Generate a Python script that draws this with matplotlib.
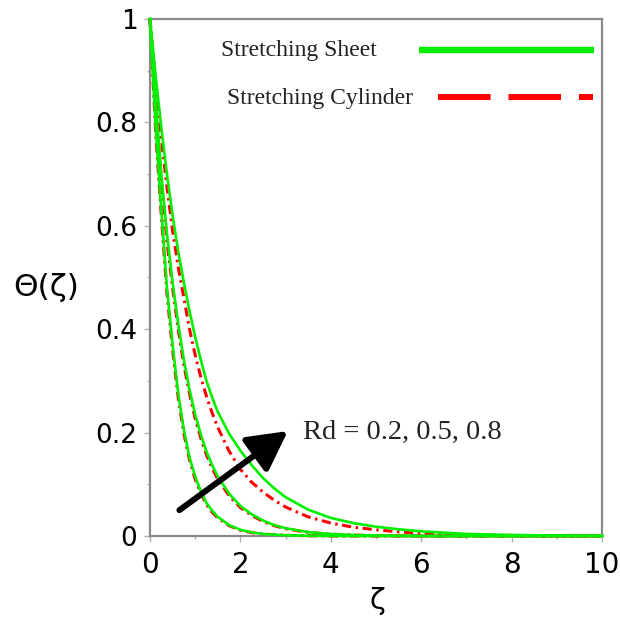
import matplotlib
matplotlib.use('Agg')
import matplotlib.pyplot as plt
from matplotlib.ticker import MultipleLocator, FixedLocator

# zeta grid the values were read at
zeta = [0, 0.125, 0.25, 0.375, 0.5, 0.625, 0.75, 0.875, 1, 1.125, 1.25, 1.375, 1.5, 1.75,
        2, 2.25, 2.5, 2.75, 3, 3.5, 4, 4.5, 5, 5.5, 6, 7, 8, 9, 10]

# Stretching sheet, Rd = 0.2, 0.5, 0.8
sheet_rd02 = [1, 0.79, 0.63, 0.48, 0.37, 0.275, 0.205, 0.152, 0.115, 0.086, 0.064, 0.049, 0.037, 0.021,
              0.012, 0.007, 0.004, 0.0025, 0.0015, 0.0005, 0, 0, 0, 0, 0, 0, 0, 0, 0]
sheet_rd05 = [1, 0.84, 0.70, 0.585, 0.49, 0.41, 0.34, 0.283, 0.235, 0.196, 0.163, 0.137, 0.115, 0.082,
              0.058, 0.042, 0.030, 0.021, 0.015, 0.0075, 0.0038, 0.002, 0.001, 0.0005, 0, 0, 0, 0, 0]
sheet_rd08 = [1, 0.89, 0.79, 0.70, 0.62, 0.55, 0.49, 0.435, 0.385, 0.34, 0.30, 0.268, 0.24, 0.198,
              0.165, 0.137, 0.112, 0.092, 0.075, 0.051, 0.035, 0.025, 0.018, 0.013, 0.009, 0.004,
              0.002, 0.001, 0.0005]

# Stretching cylinder, Rd = 0.2, 0.5, 0.8
cyl_rd02 = [1, 0.78, 0.62, 0.47, 0.36, 0.267, 0.198, 0.147, 0.11, 0.082, 0.061, 0.046, 0.035, 0.02,
            0.011, 0.0065, 0.004, 0.0023, 0.0014, 0.0005, 0, 0, 0, 0, 0, 0, 0, 0, 0]
cyl_rd05 = [1, 0.83, 0.69, 0.57, 0.48, 0.40, 0.33, 0.275, 0.227, 0.189, 0.157, 0.131, 0.11, 0.078,
            0.055, 0.040, 0.028, 0.020, 0.014, 0.007, 0.0035, 0.0018, 0.0009, 0.0004, 0, 0, 0, 0, 0]
cyl_rd08 = [1, 0.875, 0.77, 0.675, 0.59, 0.52, 0.46, 0.40, 0.35, 0.307, 0.27, 0.238, 0.21, 0.164,
            0.129, 0.104, 0.085, 0.069, 0.056, 0.037, 0.025, 0.017, 0.012, 0.008, 0.005, 0.002,
            0.001, 0, 0]

sheet_curves = [sheet_rd02, sheet_rd05, sheet_rd08]
cyl_curves = [cyl_rd02, cyl_rd05, cyl_rd08]

y_tick_vals = [0, 0.2, 0.4, 0.6, 0.8, 1]
y_tick_labels = ['0', '0.2', '0.4', '0.6', '0.8', '1']
x_tick_vals = [0, 2, 4, 6, 8, 10]

arrow_tail = (0.65, 0.05)
arrow_head = (3.05, 0.203)

GREEN = '#00f000'
RED = '#ff0000'
GRAY = '#8a8a8a'

fig = plt.figure(figsize=(6.2, 6.21), dpi=100)
ax = fig.add_axes([150/620, 85/621, 452/620, 517/621])

for c in cyl_curves:
    ax.plot(zeta, c, color=RED, lw=2.2, dashes=(3, 1.5, 0.8, 1.5), zorder=2, clip_on=False)
for s in sheet_curves:
    ax.plot(zeta, s, color=GREEN, lw=1.9, zorder=3, clip_on=False)

ax.set_xlim(0, 10)
ax.set_ylim(0, 1)

for sp in ax.spines.values():
    sp.set_color(GRAY)
    sp.set_linewidth(1.6)

ax.xaxis.set_major_locator(FixedLocator(x_tick_vals))
ax.xaxis.set_minor_locator(MultipleLocator(1))
ax.yaxis.set_major_locator(FixedLocator(y_tick_vals))
ax.yaxis.set_minor_locator(MultipleLocator(0.1))
ax.set_yticklabels(y_tick_labels)
ax.tick_params(which='major', length=4, width=1, color='#b0b0b0', labelsize=19, pad=5)
ax.tick_params(which='minor', length=2.5, width=1, color='#b0b0b0')
ax.tick_params(axis='x', labelsize=20, pad=7)

fig.text(46/620, 1 - 287/621, 'Θ(ζ)', fontsize=22.5, ha='center', va='center')
fig.text(377/620, 1 - 601/621, 'ζ', fontsize=21, ha='center', va='center')

# legend, drawn by hand
ax.plot([0.596, 0.982], [0.940, 0.940], transform=ax.transAxes, color=GREEN, lw=4.6,
        solid_capstyle='butt')
ax.plot([0.638, 0.980], [0.850, 0.850], transform=ax.transAxes, color=RED, lw=4.3,
        dashes=(8.8, 3), solid_capstyle='butt', dash_capstyle='butt')
ax.text(0.157, 0.928, 'Stretching Sheet', transform=ax.transAxes, fontsize=17,
        family='Liberation Serif', ha='left', va='baseline', color='#222222')
ax.text(0.170, 0.835, 'Stretching Cylinder', transform=ax.transAxes, fontsize=17,
        family='Liberation Serif', ha='left', va='baseline', color='#222222')

ax.annotate('', xy=arrow_head, xytext=arrow_tail,
            arrowprops=dict(arrowstyle='-|>,head_length=0.6,head_width=0.32',
                            lw=4.3, color='black', mutation_scale=40,
                            shrinkA=0, shrinkB=0), zorder=5)
ax.text(0.338, 0.187, 'Rd = 0.2, 0.5, 0.8', transform=ax.transAxes, fontsize=20.5,
        family='Liberation Serif', ha='left', va='baseline', color='#222222')

fig.savefig('out.png', dpi=100)
